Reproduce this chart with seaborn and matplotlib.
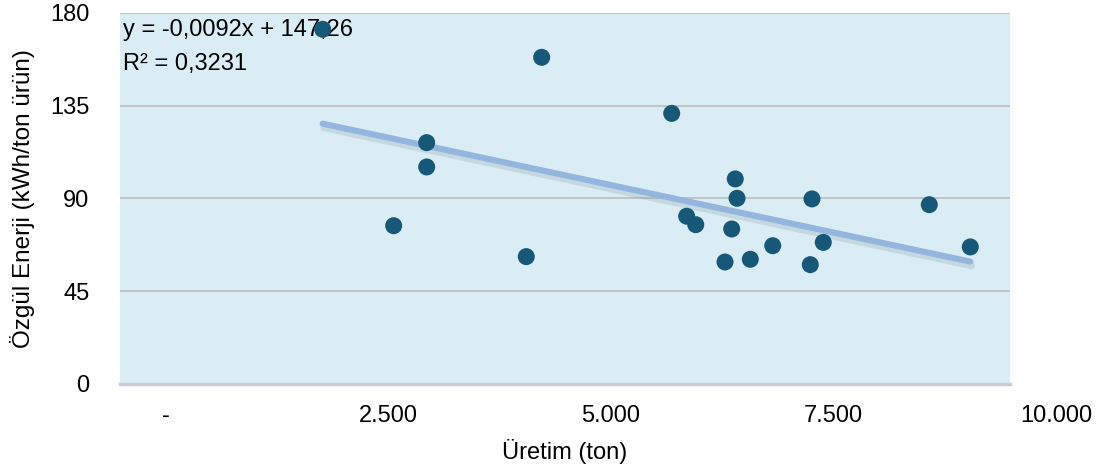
import numpy as np
import pandas as pd
import matplotlib
matplotlib.use("Agg")
import matplotlib.pyplot as plt
import matplotlib.patheffects as pe
from matplotlib.transforms import ScaledTranslation
import seaborn as sns

# Production (ton) and specific energy (kWh/ton product) per plant
uretim = [2277, 4738, 3446, 3446, 3075, 4565, 6199, 6913, 6933, 7775,
          6367, 6469, 6873, 7334, 7902, 6798, 7082, 7756, 9093, 9554]
ozgul_enerji = [172.1, 158.5, 117.1, 105.3, 76.8, 61.8, 131.3, 99.5, 90.1, 89.8,
                81.4, 77.3, 75.2, 67.1, 68.7, 59.2, 60.5, 57.9, 87.0, 66.5]

# Linear trend as reported on the chart
egim = -0.0092
kesisim = 147.26
r_kare = 0.3231

x_ticks = [0, 2500, 5000, 7500, 10000]
x_tick_labels = ["-", "2.500", "5.000", "7.500", "10.000"]
y_ticks = [0, 45, 90, 135, 180]
y_tick_labels = ["0", "45", "90", "135", "180"]

df = pd.DataFrame({"Üretim": uretim, "Enerji": ozgul_enerji})
trend_x = np.array([min(uretim), max(uretim)])
trend = pd.DataFrame({"x": trend_x, "y": egim * trend_x + kesisim})

sns.set_theme(style="white")
plt.rcParams["font.family"] = ["Liberation Sans", "DejaVu Sans"]
plt.rcParams["text.color"] = "black"
plt.rcParams["axes.labelcolor"] = "black"
plt.rcParams["xtick.color"] = "black"
plt.rcParams["ytick.color"] = "black"

FS = 17

fig = plt.figure(figsize=(11.06, 4.71), dpi=100)
ax = fig.add_axes([120 / 1106, 1 - 384 / 471, 890 / 1106, 371 / 471])
ax.set_facecolor("#DAEDF5")

# horizontal gridlines
for yv in y_ticks[1:]:
    ax.axhline(yv, color="#BDBDBD", lw=1.2, zorder=1)

sns.lineplot(data=trend, x="x", y="y", ax=ax, color="#93B5DE", lw=4.4, zorder=3,
             path_effects=[pe.SimpleLineShadow(offset=(1, -3), shadow_color="#7d8e96",
                                               alpha=0.22, linewidth=5),
                           pe.Normal()])
sns.scatterplot(data=df, x="Üretim", y="Enerji", ax=ax, color="#175878", s=150,
                edgecolor="none", zorder=4)

ax.set_xlim(0, 10000)
ax.set_ylim(0, 180)

for side in ["top", "right", "left"]:
    ax.spines[side].set_visible(False)
ax.spines["bottom"].set_color("#CFC8D9")
ax.spines["bottom"].set_linewidth(2.5)

ax.set_xticks(x_ticks)
ax.set_xticklabels(x_tick_labels, fontsize=FS)
ax.set_yticks(y_ticks)
ax.set_yticklabels(y_tick_labels, fontsize=FS)
ax.tick_params(axis="x", length=0, pad=15)
ax.tick_params(axis="y", length=0, pad=22)
shift = ScaledTranslation(0.46, 0, fig.dpi_scale_trans)
for lbl in ax.get_xticklabels():
    lbl.set_transform(lbl.get_transform() + shift)

ax.set_xlabel("Üretim (ton)", fontsize=FS, labelpad=9)
ax.set_ylabel("Özgül Enerji (kWh/ton ürün)", fontsize=17.5, labelpad=11)

eq = f"y = {egim:.4f}x + {kesisim:.2f}".replace(".", ",")
r2 = f"R² = {r_kare:.4f}".replace(".", ",")
ax.text(0.003, 0.953, eq, transform=ax.transAxes, fontsize=FS, va="center", ha="left", zorder=2)
ax.text(0.003, 0.862, r2, transform=ax.transAxes, fontsize=FS, va="center", ha="left", zorder=2)

fig.savefig("out.png", dpi=100)
